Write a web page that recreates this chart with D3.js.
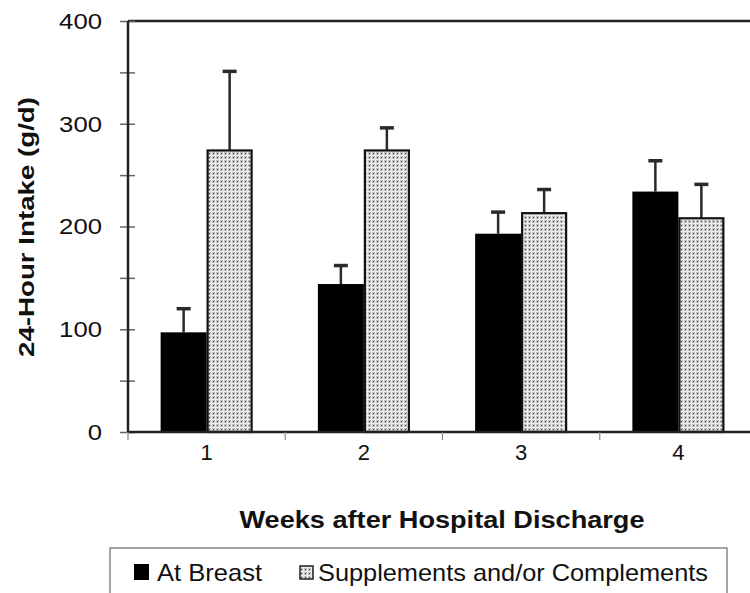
<!DOCTYPE html>
<html><head><meta charset="utf-8">
<script src="https://cdn.jsdelivr.net/npm/d3@7"></script>
<style>body{margin:0;background:#fff}svg{display:block}text{font-family:"Liberation Sans",Arial,sans-serif}</style>
</head><body>
<svg id="c" width="750" height="593"></svg>
<script>
const weeks = ["1", "2", "3", "4"];
const seriesNames = ["At Breast", "Supplements and/or Complements"];
const atBreast = [97, 144, 193, 234];
const atBreastSD = [23, 18, 21, 30];
const supplements = [274, 274, 213, 208];
const supplementsSD = [77, 22, 23, 33];
const yTicks = [0, 100, 200, 300, 400];
const yMinorTicks = [50, 150, 250, 350];

(function () {
const svg = d3.select("#c");
const defs = svg.append("defs");
const pat = defs.append("pattern").attr("id", "dots").attr("patternUnits", "userSpaceOnUse")
  .attr("width", 4).attr("height", 4);
pat.append("rect").attr("width", 4).attr("height", 4).attr("fill", "#c4c4c4");
pat.append("rect").attr("x", 0).attr("y", 3).attr("width", 4).attr("height", 1).attr("fill", "#ececec");
pat.append("rect").attr("x", 3).attr("y", 0).attr("width", 1).attr("height", 4).attr("fill", "#ececec");
pat.append("rect").attr("x", 1).attr("y", 1).attr("width", 1).attr("height", 1).attr("fill", "#3a3a3a");

const pL = 128, pR = 757, pT = 21, pB = 432;
const y = d3.scaleLinear().domain([0, 400]).range([pB, pT]);
const x0 = d3.scaleBand().domain(weeks).range([pL, pR]).padding(0);
const groupW = 92;
const x1 = d3.scaleBand().domain(seriesNames).range([0, groupW]).padding(0);
const off = (x0.bandwidth() - groupW) / 2;

const data = weeks.map((w, i) => [
  {w, s: seriesNames[0], v: atBreast[i], sd: atBreastSD[i]},
  {w, s: seriesNames[1], v: supplements[i], sd: supplementsSD[i]}
]).flat();

const eb = svg.append("g");
data.forEach(d => {
  const cx = x0(d.w) + off + x1(d.s) + x1.bandwidth() / 2;
  eb.append("line").attr("x1", cx).attr("x2", cx).attr("y1", y(d.v)).attr("y2", y(d.v + d.sd))
    .attr("stroke", "#2a2a2a").attr("stroke-width", 2.5);
  eb.append("line").attr("x1", cx - 7).attr("x2", cx + 7).attr("y1", y(d.v + d.sd)).attr("y2", y(d.v + d.sd))
    .attr("stroke", "#2a2a2a").attr("stroke-width", 3.5);
});

svg.append("g").selectAll("rect").data(data).join("rect")
  .attr("x", d => x0(d.w) + off + x1(d.s) + (d.s === seriesNames[1] ? 1 : 0))
  .attr("y", d => y(d.v))
  .attr("width", d => x1.bandwidth() - (d.s === seriesNames[1] ? 2 : 0))
  .attr("height", d => y(0) - y(d.v))
  .attr("fill", d => d.s === seriesNames[0] ? "#000" : "url(#dots)")
  .attr("stroke", d => d.s === seriesNames[0] ? "none" : "#111")
  .attr("stroke-width", 2.2);

svg.append("line").attr("x1", pL).attr("x2", 750).attr("y1", pT).attr("y2", pT)
  .attr("stroke", "#222").attr("stroke-width", 2.5);

const yAxis = d3.axisLeft(y).tickValues(yTicks.concat(yMinorTicks)).tickSize(0).tickFormat("");
const ya = svg.append("g").attr("transform", `translate(${pL},0)`).call(yAxis);
ya.select(".domain").remove();
svg.append("line").attr("x1", pL).attr("x2", pL).attr("y1", pT).attr("y2", pB)
  .attr("stroke", "#222").attr("stroke-width", 2.5);
ya.selectAll(".tick line").attr("x1", -8).attr("x2", 7).attr("stroke", "#666").attr("stroke-width", 1.5);
svg.append("g").selectAll("text").data(yTicks).join("text")
  .attr("x", 102).attr("y", d => y(d)).attr("dy", "0.36em")
  .attr("text-anchor", "end").attr("font-size", 22).attr("fill", "#111")
  .attr("textLength", d => String(d).length * 14.3).attr("lengthAdjust", "spacingAndGlyphs")
  .text(d => d);

svg.append("line").attr("x1", pL).attr("x2", 750).attr("y1", pB).attr("y2", pB)
  .attr("stroke", "#222").attr("stroke-width", 2.5);
const bounds = weeks.map(w => x0(w)).concat([pR]);
svg.append("g").selectAll("line").data(bounds).join("line")
  .attr("x1", d => d).attr("x2", d => d).attr("y1", pB).attr("y2", pB + 8)
  .attr("stroke", "#888").attr("stroke-width", 1.2);
const xAxis = d3.axisBottom(x0).tickSize(0).tickPadding(0);
const xa = svg.append("g").attr("transform", `translate(0,${pB})`).call(xAxis);
xa.select(".domain").remove();
xa.selectAll(".tick text").attr("y", 12).attr("dy", "0.71em").attr("font-size", 22)
  .attr("fill", "#111").attr("font-family", "Liberation Sans, Arial, sans-serif");

svg.append("text").attr("x", 442).attr("y", 528).attr("text-anchor", "middle")
  .attr("font-size", 23).attr("font-weight", "bold").attr("fill", "#111")
  .attr("textLength", 405).attr("lengthAdjust", "spacingAndGlyphs")
  .text("Weeks after Hospital Discharge");
svg.append("text").attr("transform", "translate(34,227) rotate(-90)").attr("text-anchor", "middle")
  .attr("font-size", 22).attr("font-weight", "bold").attr("fill", "#111")
  .attr("textLength", 260).attr("lengthAdjust", "spacingAndGlyphs")
  .text("24-Hour Intake (g/d)");

const lg = svg.append("g");
lg.append("rect").attr("x", 110).attr("y", 548).attr("width", 617).attr("height", 50)
  .attr("fill", "#fff").attr("stroke", "#888").attr("stroke-width", 1.5);
lg.append("rect").attr("x", 134).attr("y", 564).attr("width", 15).attr("height", 16).attr("fill", "#000");
lg.append("text").attr("x", 157).attr("y", 581).attr("font-size", 24).attr("fill", "#111")
  .attr("textLength", 105).attr("lengthAdjust", "spacingAndGlyphs").text(seriesNames[0]);
lg.append("rect").attr("x", 300).attr("y", 566).attr("width", 13).attr("height", 13)
  .attr("fill", "url(#dots)").attr("stroke", "#222").attr("stroke-width", 1.5);
lg.append("text").attr("x", 318).attr("y", 581).attr("font-size", 24).attr("fill", "#111")
  .attr("textLength", 390).attr("lengthAdjust", "spacingAndGlyphs").text(seriesNames[1]);
})();
</script>
</body></html>
